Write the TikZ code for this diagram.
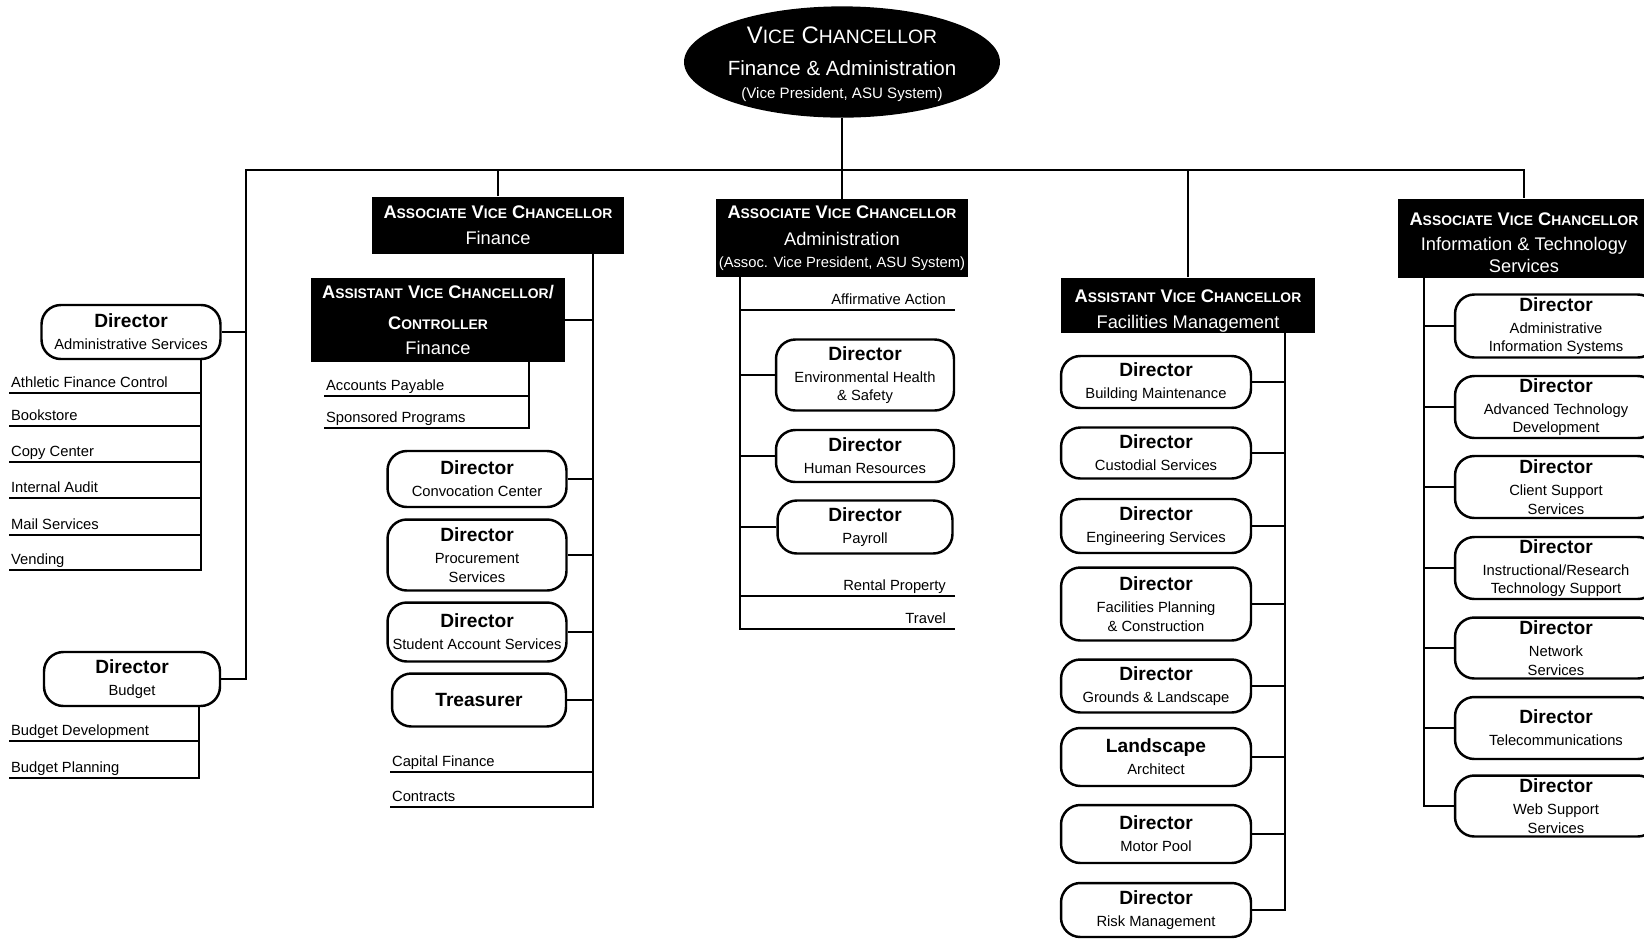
\documentclass[tikz,border=0pt]{standalone}
\usepackage{fontspec}
\setmainfont{Liberation Sans}
\usetikzlibrary{shapes.geometric}

\newcommand\capw[3][7.9]{#2{\fontsize{#1}{9}\selectfont#3}}
\newcommand\avc{\capw{A}{SSOCIATE} \capw{V}{ICE} \capw{C}{HANCELLOR}}
\newcommand\asvc{\capw{A}{SSISTANT} \capw{V}{ICE} \capw{C}{HANCELLOR}}
\newcommand\dirb{\bfseries\fontsize{10.9}{12}\selectfont}

\begin{document}
\begin{tikzpicture}[x=0.02cm,y=-0.02cm]
  \tikzstyle{link}=[line width=1.6pt]
  \tikzstyle{chief}=[ellipse,fill=black,text=white,minimum width=6.32cm,minimum height=2.18cm,inner xsep=-4pt,inner ysep=0pt,align=center,font=\fontsize{11.7}{13}\selectfont]
  \tikzstyle{headbox}=[fill=black,text=white,inner sep=0pt,align=center,font=\fontsize{10.4}{14.5}\selectfont]
  \tikzstyle{dirbox}=[draw,line width=1.4pt,fill=white,rounded corners=11pt,inner sep=0pt,align=center,font=\fontsize{8.4}{10.5}\selectfont]
  \tikzstyle{unit}=[anchor=south west,inner xsep=1pt,inner ysep=1pt,text height=6.5pt,text depth=2pt,font=\fontsize{8.4}{10}\selectfont]
  \tikzstyle{unitr}=[unit,anchor=south east,inner xsep=5pt]

  \useasboundingbox (0,0) rectangle (1644,938);
  \clip (0,0) rectangle (1644,938);

  \node[chief] (vc) at (842,62) {\rule{0pt}{12pt}{\fontsize{13.6}{15}\selectfont\capw[11]{V}{ICE} \capw[11]{C}{HANCELLOR}}\\[5pt]Finance \& Administration\\{\fontsize{8.6}{10}\selectfont(Vice President, ASU System)}};

  \node[headbox,minimum width=5.06cm,minimum height=1.14cm] (avcf) at (498,225) {{\bfseries\avc}\\Finance};
  \node[headbox,minimum width=5.08cm,minimum height=1.68cm] (ctrl) at (438,320) {{\bfseries\asvc/}\\[3pt]{\bfseries\capw{C}{ONTROLLER}}\\[-0.5pt]Finance};
  \node[headbox,minimum width=5.04cm,minimum height=1.56cm] (avca) at (842,238) {{\bfseries\avc}\\[1pt]Administration\\[-2pt]{\fontsize{8.4}{10}\selectfont(Assoc. Vice President, ASU System)}};
  \node[headbox,minimum width=5.08cm,minimum height=1.10cm] (avcfm) at (1188,305) {\rule{0pt}{14pt}{\bfseries\asvc}\\Facilities Management};
  \node[headbox,minimum width=5.04cm,minimum height=1.58cm] (avcit) at (1524,238) {\rule{0pt}{12.3pt}{\bfseries\avc}\\Information \& Technology\\[-2pt]Services};

  % left side
  \node[dirbox,minimum width=3.58cm,minimum height=1.08cm] (das) at (131,332) {{\dirb Director}\\[2pt]Administrative Services};
  \node[unit] (afc) at (9,393) {Athletic Finance Control};
  \node[unit] (book) at (9,426) {Bookstore};
  \node[unit] (copy) at (9,462) {Copy Center};
  \node[unit] (audit) at (9,498) {Internal Audit};
  \node[unit] (mail) at (9,535) {Mail Services};
  \node[unit] (vend) at (9,570) {Vending};
  \node[dirbox,minimum width=3.52cm,minimum height=1.08cm] (dbud) at (132,679) {{\dirb Director}\\[2pt]Budget};
  \node[unit] (bdev) at (9,741) {Budget Development};
  \node[unit] (bplan) at (9,778) {Budget Planning};

  % finance
  \node[unit] (acpay) at (324,396) {Accounts Payable};
  \node[unit] (spons) at (324,428) {Sponsored Programs};
  \node[dirbox,minimum width=3.58cm,minimum height=1.12cm] (conv) at (477,479) {{\dirb Director}\\[2pt]Convocation Center};
  \node[dirbox,minimum width=3.58cm,minimum height=1.42cm] (proc) at (477,555) {{\dirb Director}\\[2pt]Procurement\\Services};
  \node[dirbox,minimum width=3.58cm,minimum height=1.18cm] (sas) at (477,632) {{\dirb Director}\\[2pt]Student Account Services};
  \node[dirbox,minimum width=3.48cm,minimum height=1.06cm] (treas) at (479,700) {{\dirb Treasurer}};
  \node[unit] (capfin) at (390,772) {Capital Finance};
  \node[unit] (contr) at (390,807) {Contracts};

  % administration
  \node[unitr] (affirm) at (955,310) {Affirmative Action};
  \node[dirbox,minimum width=3.56cm,minimum height=1.42cm] (envh) at (865,375) {{\dirb Director}\\[2pt]Environmental Health\\\& Safety};
  \node[dirbox,minimum width=3.56cm,minimum height=1.04cm] (hr) at (865,456) {{\dirb Director}\\[2pt]Human Resources};
  \node[dirbox,minimum width=3.50cm,minimum height=1.06cm] (payr) at (865,527) {{\dirb Director}\\[2pt]Payroll};
  \node[unitr] (rental) at (955,596) {Rental Property};
  \node[unitr] (travel) at (955,629) {Travel};

  % facilities
  \node[dirbox,minimum width=3.8cm,minimum height=1.04cm] (bm) at (1156,382) {{\dirb Director}\\[2pt]Building Maintenance};
  \node[dirbox,minimum width=3.8cm,minimum height=1.02cm] (cust) at (1156,453) {{\dirb Director}\\[2pt]Custodial Services};
  \node[dirbox,minimum width=3.8cm,minimum height=1.08cm] (eng) at (1156,526) {{\dirb Director}\\[2pt]Engineering Services};
  \node[dirbox,minimum width=3.8cm,minimum height=1.46cm] (fpc) at (1156,604) {{\dirb Director}\\[2pt]Facilities Planning\\\& Construction};
  \node[dirbox,minimum width=3.8cm,minimum height=1.06cm] (gl) at (1156,686) {{\dirb Director}\\[2pt]Grounds \& Landscape};
  \node[dirbox,minimum width=3.8cm,minimum height=1.16cm] (la) at (1156,757) {{\dirb Landscape}\\[2pt]Architect};
  \node[dirbox,minimum width=3.8cm,minimum height=1.16cm] (mp) at (1156,834) {{\dirb Director}\\[2pt]Motor Pool};
  \node[dirbox,minimum width=3.8cm,minimum height=1.08cm] (rm) at (1156,910) {{\dirb Director}\\[2pt]Risk Management};

  % information technology
  \node[dirbox,minimum width=4.04cm,minimum height=1.26cm] (ais) at (1556,326) {{\dirb Director}\\[2pt]Administrative\\Information Systems};
  \node[dirbox,minimum width=4.04cm,minimum height=1.24cm] (atd) at (1556,407) {{\dirb Director}\\[2pt]Advanced Technology\\Development};
  \node[dirbox,minimum width=4.04cm,minimum height=1.24cm] (css) at (1556,487) {{\dirb Director}\\[2pt]Client Support\\Services};
  \node[dirbox,minimum width=4.04cm,minimum height=1.24cm] (irts) at (1556,568) {{\dirb Director}\\[2pt]Instructional/Research\\Technology Support};
  \node[dirbox,minimum width=4.04cm,minimum height=1.22cm] (ns) at (1556,648) {{\dirb Director}\\[2pt]Network\\Services};
  \node[dirbox,minimum width=4.04cm,minimum height=1.24cm] (tel) at (1556,728) {{\dirb Director}\\[2pt]Telecommunications};
  \node[dirbox,minimum width=4.04cm,minimum height=1.22cm] (wss) at (1556,806) {{\dirb Director}\\[2pt]Web Support\\Services};

  \coordinate (sL) at (246,170);
  \coordinate (sA) at (201,359);
  \coordinate (sB) at (199,706);
  \coordinate (sC) at (529,362);
  \coordinate (sF) at (593,254);
  \coordinate (sD) at (740,277);
  \coordinate (sE) at (1285,333);
  \coordinate (sI) at (1424,278);

  \draw[link] (vc.south) -- (avca.north);
  \draw[link] (dbud.east) -| (sL) -| (avcit.north);
  \draw[link] (das.east) -- (das.east -| sL);
  \draw[link] (avcf.north) -- (avcf.north |- sL);
  \draw[link] (avcfm.north) -- (avcfm.north |- sL);

  \draw[link] (sA) |- (vend.south west);
  \draw[link] (afc.south west) -- (afc.south west -| sA);
  \draw[link] (book.south west) -- (book.south west -| sA);
  \draw[link] (copy.south west) -- (copy.south west -| sA);
  \draw[link] (audit.south west) -- (audit.south west -| sA);
  \draw[link] (mail.south west) -- (mail.south west -| sA);
  \draw[link] (sB) |- (bplan.south west);
  \draw[link] (bdev.south west) -- (bdev.south west -| sB);

  \draw[link] (sC) |- (spons.south west);
  \draw[link] (acpay.south west) -- (acpay.south west -| sC);
  \draw[link] (sF) |- (contr.south west);
  \draw[link] (ctrl.east) -- (ctrl.east -| sF);
  \draw[link] (conv.east) -- (conv.east -| sF);
  \draw[link] (proc.east) -- (proc.east -| sF);
  \draw[link] (sas.east) -- (sas.east -| sF);
  \draw[link] (treas.east) -- (treas.east -| sF);
  \draw[link] (capfin.south west) -- (capfin.south west -| sF);

  \draw[link] (sD) |- (travel.south east);
  \draw[link] (affirm.south east) -- (affirm.south east -| sD);
  \draw[link] (envh.west) -- (envh.west -| sD);
  \draw[link] (hr.west) -- (hr.west -| sD);
  \draw[link] (payr.west) -- (payr.west -| sD);
  \draw[link] (rental.south east) -- (rental.south east -| sD);

  \draw[link] (sE) |- (rm.east);
  \draw[link] (bm.east) -- (bm.east -| sE);
  \draw[link] (cust.east) -- (cust.east -| sE);
  \draw[link] (eng.east) -- (eng.east -| sE);
  \draw[link] (fpc.east) -- (fpc.east -| sE);
  \draw[link] (gl.east) -- (gl.east -| sE);
  \draw[link] (la.east) -- (la.east -| sE);
  \draw[link] (mp.east) -- (mp.east -| sE);

  \draw[link] (sI) |- (wss.west);
  \draw[link] (ais.west) -- (ais.west -| sI);
  \draw[link] (atd.west) -- (atd.west -| sI);
  \draw[link] (css.west) -- (css.west -| sI);
  \draw[link] (irts.west) -- (irts.west -| sI);
  \draw[link] (ns.west) -- (ns.west -| sI);
  \draw[link] (tel.west) -- (tel.west -| sI);
\end{tikzpicture}
\end{document}
